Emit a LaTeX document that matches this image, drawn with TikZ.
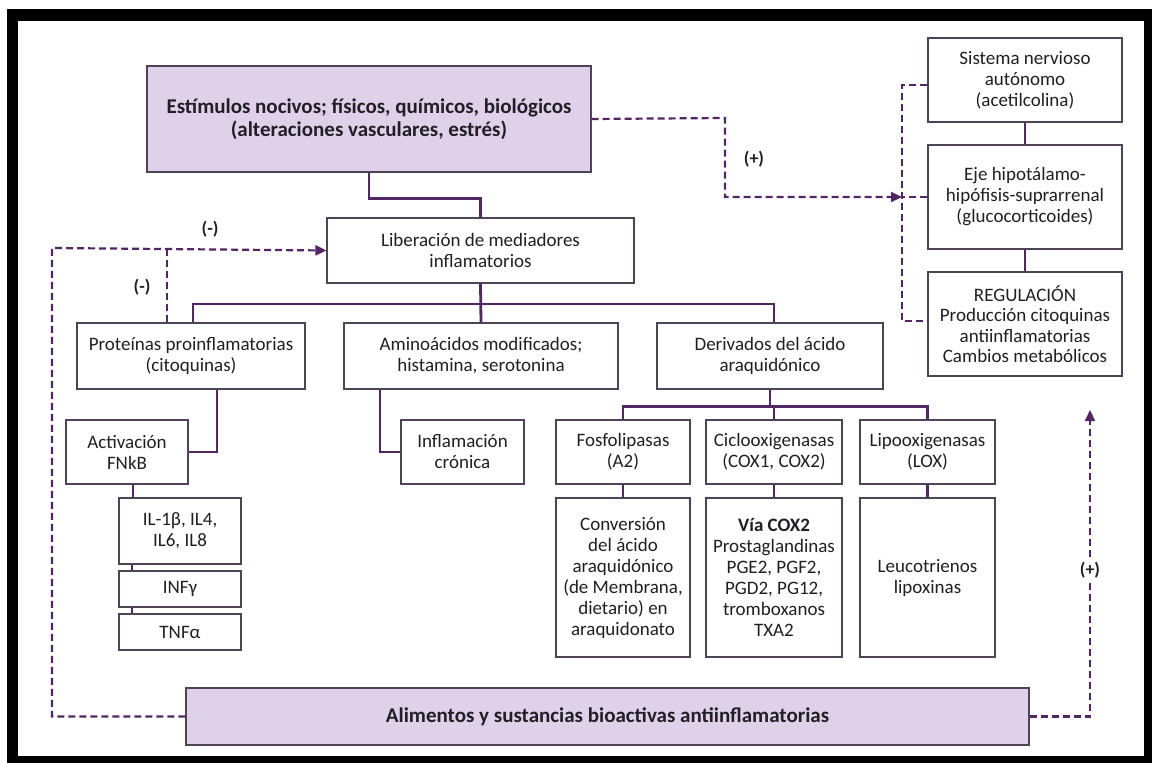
\documentclass[tikz,border=0pt]{standalone}
\usepackage{fontspec}
\setmainfont{Carlito}
\usetikzlibrary{arrows.meta}
\definecolor{lila}{RGB}{222,209,233}
\definecolor{morado}{RGB}{82,38,98}
\definecolor{borde}{RGB}{78,68,86}
\definecolor{texto}{RGB}{34,30,38}
\begin{document}
\begin{tikzpicture}[
  x=1pt, y=-1pt,
  every node/.style={draw=borde, line width=1.2pt, rectangle, inner sep=0pt,
    align=center, text=texto, font=\fontsize{19}{21}\selectfont},
  linea/.style={draw=morado, line width=2.8pt},
  discont/.style={draw=morado, line width=2.2pt, dash pattern=on 7pt off 4pt,
    -{Triangle[length=11pt,width=10pt]}}
]
\tikzset{
  caja/.style={fill=white},
  cajalila/.style={fill=lila, font=\fontsize{21}{23}\selectfont\bfseries},
  signo/.style={draw=none, font=\fontsize{18}{20}\selectfont\bfseries}
}
\fill[white] (0,0) rectangle (1152,763);
\fill[black] (7,9) rectangle (1152,763);
\fill[white] (18,21) rectangle (1144,756);

\node[cajalila, minimum width=444pt, minimum height=106pt] (estimulos) at (369,119)
  {Estímulos nocivos; físicos, químicos, biológicos\\(alteraciones vasculares, estrés)};
\node[caja, minimum width=307pt, minimum height=65pt] (liberacion) at (480.5,250.5)
  {Liberación de mediadores\\inflamatorios};
\node[caja, minimum width=228pt, minimum height=66pt] (proteinas) at (191,356)
  {Proteínas proinflamatorias\\(citoquinas)};
\node[caja, minimum width=274pt, minimum height=66pt] (amino) at (481,356)
  {Aminoácidos modificados;\\histamina, serotonina};
\node[caja, minimum width=226pt, minimum height=66pt] (derivados) at (770,356)
  {Derivados del ácido\\araquidónico};
\node[caja, minimum width=122pt, minimum height=64pt] (activacion) at (127,452)
  {Activación\\FNkB};
\node[caja, minimum width=123pt, minimum height=64pt] (inflamacion) at (462.5,452)
  {Inflamación\\crónica};
\node[caja, minimum width=134pt, minimum height=64pt] (fosfo) at (623,452)
  {Fosfolipasas\\(A2)};
\node[caja, minimum width=136pt, minimum height=64pt] (ciclo) at (774,452)
  {Ciclooxigenasas\\(COX1, COX2)};
\node[caja, minimum width=135pt, minimum height=64pt] (lipo) at (927.5,452)
  {Lipooxigenasas\\(LOX)};
\node[caja, minimum width=134pt, minimum height=159pt] (conversion) at (623,577.5)
  {Conversión\\del ácido\\araquidónico\\(de Membrana,\\dietario) en\\araquidonato};
\node[caja, minimum width=136pt, minimum height=159pt] (viacox) at (774,577.5)
  {\textbf{Vía COX2}\\Prostaglandinas\\PGE2, PGF2,\\PGD2, PG12,\\tromboxanos\\TXA2};
\node[caja, minimum width=135pt, minimum height=159pt] (leuco) at (927.5,577.5)
  {Leucotrienos\\lipoxinas};
\node[caja, minimum width=122pt, minimum height=66pt] (il) at (180,531)
  {IL-1β, IL4,\\IL6, IL8};
\node[caja, minimum width=122pt, minimum height=36pt] (infg) at (180,589) {INFγ};
\node[caja, minimum width=122pt, minimum height=36pt] (tnfa) at (180,632) {TNFα};
\node[caja, minimum width=194pt, minimum height=84pt] (sistema) at (1025,80)
  {Sistema nervioso\\autónomo\\(acetilcolina)};
\node[caja, minimum width=194pt, minimum height=104pt] (eje) at (1025,197)
  {Eje hipotálamo-\\hipófisis-suprarrenal\\(glucocorticoides)};
\node[caja, minimum width=194pt, minimum height=104pt,
  font=\fontsize{19}{20.5}\selectfont] (regulacion) at (1025,324)
  {REGULACIÓN\\Producción citoquinas\\antiinflamatorias\\Cambios metabólicos};
\node[cajalila, minimum width=843pt, minimum height=57pt] (alimentos) at (607.5,716.5)
  {Alimentos y sustancias bioactivas antiinflamatorias};

\draw[linea] (estimulos.south) -- ++(0,26) -| (liberacion.north);
\draw[linea] (liberacion.south) -- (amino.north);
\draw[linea] (proteinas.north) ++(2,0) |- (liberacion.south |- 0,304) -| ([xshift=4pt]derivados.north);
\draw[linea] ([xshift=26pt]proteinas.south) |- (activacion.east);
\draw[linea] ([xshift=6pt]activacion.south) -- ([xshift=6pt]activacion.south |- il.north);
\draw[linea, line width=1.4pt] ([xshift=-48pt]il.south) -- ([xshift=-48pt]infg.north);
\draw[linea, line width=1.4pt] ([xshift=-48pt]infg.south) -- ([xshift=-48pt]tnfa.north);
\draw[linea] ([xshift=-101pt]amino.south) |- (inflamacion.west);
\draw[linea] (derivados.south) -- ++(0,17) coordinate (bus);
\draw[linea] (fosfo.north) |- (bus) -| (lipo.north);
\draw[linea] (bus -| ciclo.north) -- (ciclo.north);
\draw[linea] (fosfo.south) -- (conversion.north);
\draw[linea] (ciclo.south) -- (viacox.north);
\draw[linea] (lipo.south) -- (leuco.north);
\draw[linea] (sistema.south) -- (eje.north);
\draw[linea] (eje.south) -- (regulacion.north);

\coordinate (izq) at (52,248);
\coordinate (der) at (902,197);
\coordinate (flecha) at (1090,410);
\draw[discont] (estimulos.east) -- (725,118) |- (der);
\draw[discont, -] ([yshift=-5pt]sistema.west) -| (der) |- ([yshift=3pt]regulacion.west);
\draw[discont, -] (eje.west) -- (der);
\draw[discont] (alimentos.west) -| (izq) -- (liberacion.west);
\draw[discont, -] (proteinas.north -| 167,0) -- (167,248);
\draw[discont] (alimentos.east) -| (flecha);

\node[signo] (menos1) at (210,229) {(-)};
\node[signo] (menos2) at (142,287) {(-)};
\node[signo] (mas1) at (754,159) {(+)};
\node[signo, fill=white, inner sep=2pt] (mas2) at (1090,570) {(+)};
\end{tikzpicture}
\end{document}
